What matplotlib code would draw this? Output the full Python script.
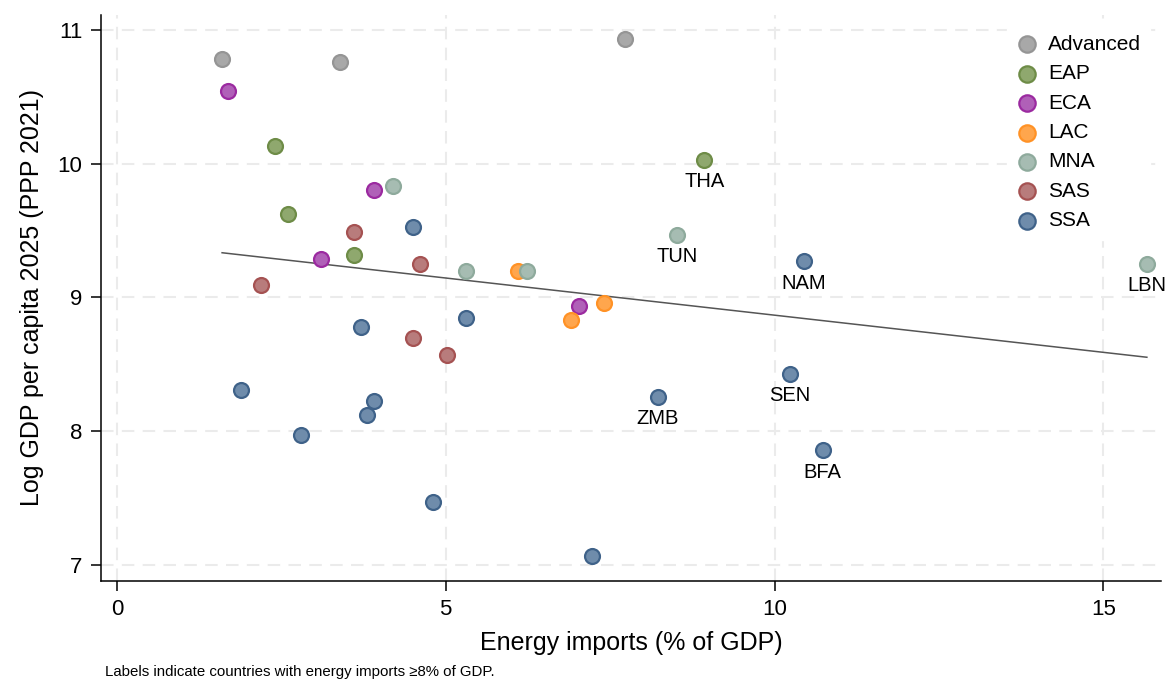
import numpy as np
import matplotlib.pyplot as plt

plt.rcParams['font.family'] = ['Liberation Sans', 'DejaVu Sans']

# region -> (energy imports % GDP, log GDP per capita, label)
regions = ["Advanced", "EAP", "ECA", "LAC", "MNA", "SAS", "SSA"]

adv_x = [1.60, 3.39, 7.72]
adv_y = [10.78, 10.76, 10.93]
adv_lab = ["", "", ""]

eap_x = [2.40, 2.60, 3.61, 8.93]
eap_y = [10.13, 9.62, 9.32, 10.03]
eap_lab = ["", "", "", "THA"]

eca_x = [1.69, 3.91, 3.10, 7.02]
eca_y = [10.54, 9.80, 9.29, 8.94]
eca_lab = ["", "", "", ""]

lac_x = [6.10, 7.41, 6.91]
lac_y = [9.20, 8.96, 8.83]
lac_lab = ["", "", ""]

mna_x = [4.20, 5.31, 6.23, 8.52, 15.66]
mna_y = [9.83, 9.20, 9.20, 9.47, 9.25]
mna_lab = ["", "", "", "TUN", "LBN"]

sas_x = [2.19, 3.61, 4.61, 4.51, 5.02]
sas_y = [9.09, 9.49, 9.25, 8.70, 8.57]
sas_lab = ["", "", "", "", ""]

ssa_x = [4.51, 3.71, 5.31, 1.89, 3.91, 3.81, 2.80, 4.81, 7.23, 8.22, 10.44, 10.23, 10.73]
ssa_y = [9.53, 8.78, 8.85, 8.31, 8.23, 8.12, 7.97, 7.47, 7.07, 8.26, 9.27, 8.43, 7.86]
ssa_lab = ["", "", "", "", "", "", "", "", "", "ZMB", "NAM", "SEN", "BFA"]

xs = [adv_x, eap_x, eca_x, lac_x, mna_x, sas_x, ssa_x]
ys = [adv_y, eap_y, eca_y, lac_y, mna_y, sas_y, ssa_y]
labs = [adv_lab, eap_lab, eca_lab, lac_lab, mna_lab, sas_lab, ssa_lab]

fills = ["#a8a8a8", "#8fa86e", "#b060b8", "#ffa64d", "#a6bcb2", "#b87c7c", "#6f8cab"]
edges = ["#959595", "#6e8c47", "#9b2aa0", "#ff9226", "#8eaa9c", "#a55252", "#3f6289"]

fig = plt.figure(figsize=(11.67, 6.79), dpi=100)
ax = fig.add_axes([0.0866, 0.145, 0.908, 0.833])

for i, reg in enumerate(regions):
    ax.scatter(xs[i], ys[i], s=115, c=fills[i], edgecolors=edges[i],
               linewidths=1.6, label=reg, zorder=3)
    for x, y, t in zip(xs[i], ys[i], labs[i]):
        if t:
            ax.annotate(t, (x, y), xytext=(0, -9), textcoords="offset points",
                        ha="center", va="top", fontsize=14.5)

# linear fit
all_x = np.concatenate([np.array(v) for v in xs])
all_y = np.concatenate([np.array(v) for v in ys])
b, a = np.polyfit(all_x, all_y, 1)
fx = np.array([all_x.min(), all_x.max()])
ax.plot(fx, a + b * fx, color="#555555", linewidth=1.1, zorder=2)

ax.set_xlim(-0.24, 15.87)
ax.set_ylim(6.886, 11.11)
ax.set_xticks([0, 5, 10, 15])
ax.set_yticks([7, 8, 9, 10, 11])
ax.grid(True, color="#ebebeb", linestyle=(0, (6, 4)), linewidth=1.5, zorder=0)
ax.set_axisbelow(True)
for s in ["top", "right"]:
    ax.spines[s].set_visible(False)
ax.spines["left"].set_linewidth(1.1)
ax.spines["bottom"].set_linewidth(1.1)
ax.tick_params(axis="both", labelsize=16, length=7.5, width=1.1, pad=6)

ax.set_xlabel("Energy imports (% of GDP)", fontsize=18, labelpad=8)
ax.set_ylabel("Log GDP per capita 2025 (PPP 2021)", fontsize=18, labelpad=10)

leg = ax.legend(loc="upper right", bbox_to_anchor=(1.0, 1.0), frameon=True,
                fontsize=15, handletextpad=0.5, handlelength=1.0,
                labelspacing=0.5, borderpad=0.45, scatterpoints=1,
                markerscale=1.1)
leg.get_frame().set_edgecolor("white")
leg.get_frame().set_alpha(1)

fig.text(0.09, 0.0, "Labels indicate countries with energy imports \u22658% of GDP.",
         fontsize=10.8, ha="left", va="bottom")

plt.savefig("out.png", dpi=100)
